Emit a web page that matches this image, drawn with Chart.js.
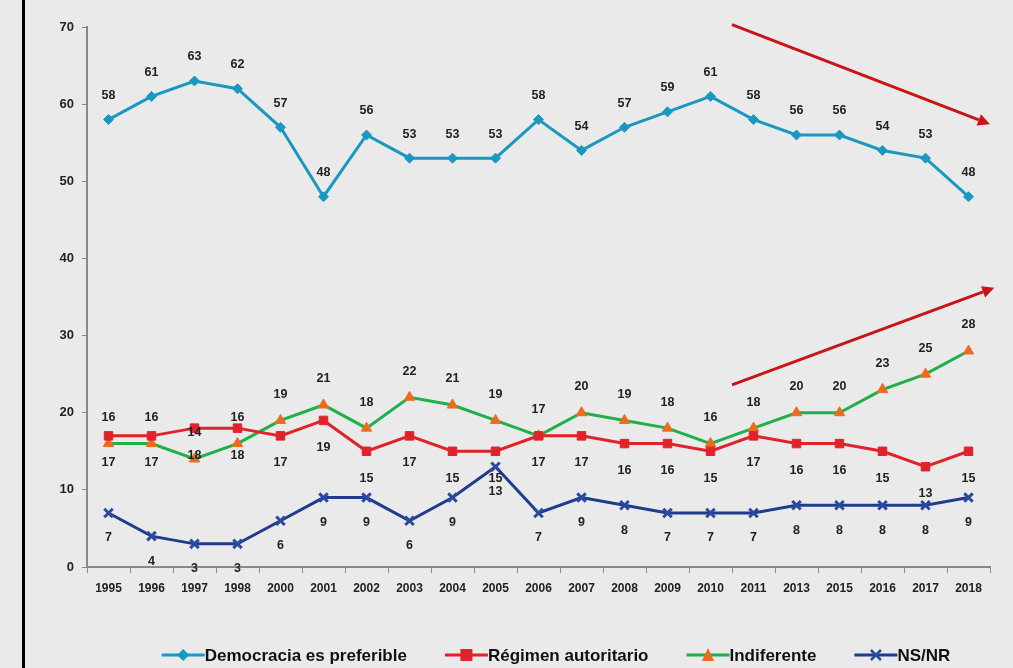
<!DOCTYPE html>
<html><head><meta charset="utf-8">
<script src="https://cdn.jsdelivr.net/npm/chart.js@4/dist/chart.umd.min.js"></script>
<style>
html,body{margin:0;padding:0;background:#eaeaea;}
#wrap{position:relative;width:1013px;height:668px;}
#bar{position:absolute;left:22px;top:0;width:3px;height:668px;background:#000;}
canvas{position:absolute;left:0;top:0;}
</style></head><body>
<div id="wrap"><canvas id="c" width="1013" height="668"></canvas><div id="bar"></div></div>
<script>
const years = ['1995','1996','1997','1998','2000','2001','2002','2003','2004','2005','2006','2007','2008','2009','2010','2011','2013','2015','2016','2017','2018'];
const democracia = [58,61,63,62,57,48,56,53,53,53,58,54,57,59,61,58,56,56,54,53,48];
const autoritario = [17,17,18,18,17,19,15,17,15,15,17,17,16,16,15,17,16,16,15,13,15];
const indiferente = [16,16,14,16,19,21,18,22,21,19,17,20,19,18,16,18,20,20,23,25,28];
const nsnr = [7,4,3,3,6,9,9,6,9,13,7,9,8,7,7,7,8,8,8,8,9];
const seriesNames = ['Democracia es preferible','Régimen autoritario','Indiferente','NS/NR'];
const yTicks = [0,10,20,30,40,50,60,70];
// trend arrows in data coordinates [xIndex, yValue]
const arrows = [[[14.5,70.3],[20.5,57.4]],[[14.5,23.6],[20.6,36.2]]];

const FONT = '"Liberation Sans Narrow","Arial Narrow","Liberation Sans",sans-serif';
const cols = {
  dem:{line:'#1b98c0',pt:'#1b98c0'},
  aut:{line:'#e0232b',pt:'#e0232b'},
  ind:{line:'#1fb04a',pt:'#ee6a1f'},
  ns:{line:'#1f3d8c',pt:'#2a4aa0'}
};
const styles = ['rectRot','rect','triangle','crossRot'];
const colList = [cols.dem,cols.aut,cols.ind,cols.ns];
const labelOffsets = [-24,27,-26,25];

function drawMarker(x,cx,cy,style,col){
  x.fillStyle=col; x.strokeStyle=col; x.lineWidth=2.5;
  x.beginPath();
  if(style==='rectRot'){x.moveTo(cx,cy-6);x.lineTo(cx+6,cy);x.lineTo(cx,cy+6);x.lineTo(cx-6,cy);x.closePath();x.fill();}
  else if(style==='rect'){x.fillRect(cx-6,cy-6,12,12);}
  else if(style==='triangle'){x.moveTo(cx,cy-7);x.lineTo(cx+6,cy+6);x.lineTo(cx-6,cy+6);x.closePath();x.fill();}
  else {x.moveTo(cx-5,cy-5);x.lineTo(cx+5,cy+5);x.moveTo(cx+5,cy-5);x.lineTo(cx-5,cy+5);x.stroke();}
}

const labelPlugin = {
  id:'labels',
  afterDatasetsDraw(chart){
    const ctx = chart.ctx;
    ctx.save();
    ctx.font = 'bold 12.5px '+FONT;
    ctx.fillStyle = '#222';
    ctx.textAlign='center'; ctx.textBaseline='middle';
    chart.data.datasets.forEach((ds,i)=>{
      const meta = chart.getDatasetMeta(i);
      meta.data.forEach((p,j)=>{
        ctx.fillText(String(ds.data[j]), p.x, p.y+labelOffsets[i]);
      });
    });
    // trend arrows
    const xs = chart.scales.x, ys = chart.scales.y;
    ctx.strokeStyle='#c81515'; ctx.fillStyle='#c81515'; ctx.lineWidth=3;
    arrows.forEach(a=>{
      const x0=xs.getPixelForValue(a[0][0]), y0=ys.getPixelForValue(a[0][1]);
      const x1=xs.getPixelForValue(a[1][0]), y1=ys.getPixelForValue(a[1][1]);
      const ang=Math.atan2(y1-y0,x1-x0);
      const hx=x1-12*Math.cos(ang), hy=y1-12*Math.sin(ang);
      ctx.beginPath(); ctx.moveTo(x0,y0); ctx.lineTo(hx,hy); ctx.stroke();
      ctx.beginPath(); ctx.moveTo(x1,y1);
      ctx.lineTo(hx+6*Math.sin(ang), hy-6*Math.cos(ang));
      ctx.lineTo(hx-6*Math.sin(ang), hy+6*Math.cos(ang));
      ctx.closePath(); ctx.fill();
    });
    // legend
    ctx.font='bold 17px '+FONT;
    ctx.textAlign='left';
    const iconW=43, gap=38, cy=655;
    const widths=chart.data.datasets.map(d=>ctx.measureText(d.label).width);
    const total=widths.reduce((a,b)=>a+b,0)+iconW*4+gap*3;
    let x=556-total/2;
    chart.data.datasets.forEach((d,i)=>{
      const c=colList[i];
      ctx.strokeStyle=c.line; ctx.lineWidth=3;
      ctx.beginPath(); ctx.moveTo(x,cy); ctx.lineTo(x+iconW,cy); ctx.stroke();
      drawMarker(ctx,x+iconW/2,cy,styles[i],c.pt);
      ctx.fillStyle='#111';
      ctx.fillText(d.label,x+iconW,cy+1);
      x+=iconW+widths[i]+gap;
    });
    ctx.restore();
  }
};

const mk = (label,data,c,style,r)=>({label,data,borderColor:c.line,backgroundColor:c.pt,pointBorderColor:c.pt,pointBackgroundColor:c.pt,
  pointStyle:style,pointRadius:r,pointBorderWidth:style==='crossRot'?3:1,borderWidth:3,tension:0,fill:false});

new Chart(document.getElementById('c'),{
  type:'line',
  data:{labels:years,datasets:[
    mk(seriesNames[0],democracia,cols.dem,'rectRot',5),
    mk(seriesNames[1],autoritario,cols.aut,'rect',6),
    mk(seriesNames[2],indiferente,cols.ind,'triangle',6),
    mk(seriesNames[3],nsnr,cols.ns,'crossRot',6)
  ]},
  options:{
    responsive:false,animation:false,
    layout:{padding:{left:0,right:23,top:27,bottom:0}},
    plugins:{tooltip:{enabled:false},legend:{display:false}},
    scales:{
      x:{offset:true,
        grid:{display:true,drawOnChartArea:false,offset:true,tickLength:6,color:'#888'},
        border:{color:'#888',width:2},
        ticks:{font:{family:FONT,size:12,weight:'bold'},color:'#222',maxRotation:0,autoSkip:false,padding:8},
        afterFit(s){s.height=101;}
      },
      y:{min:0,max:70,
        afterBuildTicks(s){s.ticks=yTicks.map(v=>({value:v}));},
        grid:{display:true,drawOnChartArea:false,tickLength:5,color:'#888'},
        border:{color:'#888',width:2},
        ticks:{font:{family:FONT,size:13,weight:'bold'},color:'#222',padding:8},
        afterFit(s){s.width=87;}
      }
    }
  },
  plugins:[labelPlugin]
});
</script>
</body></html>
